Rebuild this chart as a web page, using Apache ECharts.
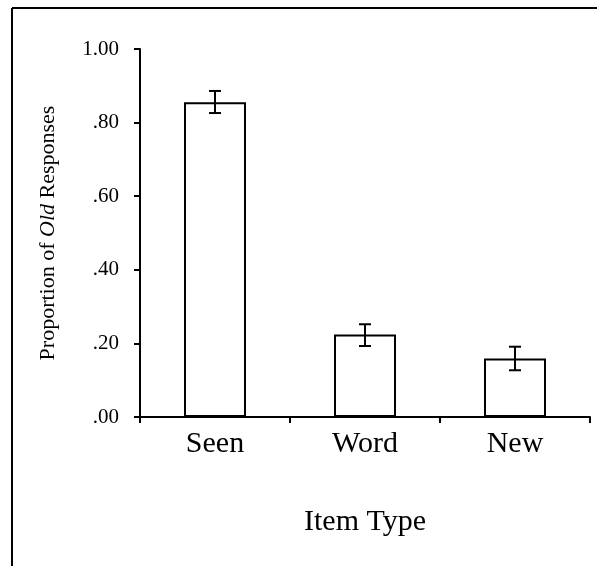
<!DOCTYPE html>
<html>
<head>
<meta charset="utf-8">
<script src="https://cdn.jsdelivr.net/npm/echarts@6/dist/echarts.min.js"></script>
<style>
html,body{margin:0;padding:0;background:#fff;}
#main{width:597px;height:566px;}
</style>
</head>
<body>
<div id="main"></div>
<script>
const categories = ['Seen', 'Word', 'New'];
const proportions = [0.855, 0.224, 0.159];
const errLow = [0.826, 0.193, 0.127];
const errHigh = [0.886, 0.252, 0.191];
const yTicks = [0, 0.2, 0.4, 0.6, 0.8, 1.0];

const chart = echarts.init(document.getElementById('main'));
const serif = '"Liberation Serif", "Times New Roman", serif';

const errData = categories.map((c, i) => [i, errLow[i], errHigh[i]]);

chart.setOption({
  backgroundColor: '#fff',
  animation: false,
  grid: { left: 140, right: 7, top: 49, bottom: 149, containLabel: false },
  xAxis: {
    type: 'category',
    data: categories,
    boundaryGap: true,
    axisLine: { lineStyle: { color: '#000', width: 2 } },
    axisTick: { show: true, length: 6, alignWithLabel: false, lineStyle: { color: '#000', width: 2 } },
    axisLabel: { color: '#000', fontFamily: serif, fontSize: 30, margin: 12 },
    name: 'Item Type',
    nameLocation: 'middle',
    nameGap: 90,
    nameTextStyle: { color: '#000', fontFamily: serif, fontSize: 30 }
  },
  yAxis: {
    type: 'value',
    min: yTicks[0],
    max: yTicks[yTicks.length - 1],
    interval: 0.2,
    splitLine: { show: false },
    axisLine: { show: true, lineStyle: { color: '#000', width: 2 } },
    axisTick: { show: true, inside: false, length: 6, lineStyle: { color: '#000', width: 2 } },
    axisLabel: {
      color: '#000', fontFamily: serif, fontSize: 21, margin: 21,
      formatter: v => v.toFixed(2).replace(/^0/, '')
    },
    name: '{n|Proportion of }{i|Old}{n| Responses}',
    nameLocation: 'middle',
    nameGap: 81,
    nameTextStyle: {
      rich: {
        n: { color: '#000', fontFamily: serif, fontSize: 22 },
        i: { color: '#000', fontFamily: serif, fontSize: 22, fontStyle: 'italic' }
      }
    }
  },
  series: [
    {
      type: 'bar',
      data: proportions,
      barWidth: 62,
      itemStyle: { color: '#fff', borderColor: '#000', borderWidth: 2 }
    },
    {
      type: 'custom',
      data: errData,
      z: 10,
      renderItem: function (params, api) {
        const x = api.value(0);
        const lo = api.coord([x, api.value(1)]);
        const hi = api.coord([x, api.value(2)]);
        const hw = 6;
        const style = { stroke: '#000', lineWidth: 2, fill: null };
        return {
          type: 'group',
          children: [
            { type: 'line', shape: { x1: lo[0], y1: lo[1], x2: hi[0], y2: hi[1] }, style },
            { type: 'line', shape: { x1: lo[0] - hw, y1: lo[1], x2: lo[0] + hw, y2: lo[1] }, style },
            { type: 'line', shape: { x1: hi[0] - hw, y1: hi[1], x2: hi[0] + hw, y2: hi[1] }, style }
          ]
        };
      }
    }
  ],
  graphic: [
    { type: 'line', shape: { x1: 12, y1: 8, x2: 597, y2: 8 }, style: { stroke: '#000', lineWidth: 2 } },
    { type: 'line', shape: { x1: 12, y1: 8, x2: 12, y2: 566 }, style: { stroke: '#000', lineWidth: 2 } }
  ]
});
</script>
</body>
</html>
